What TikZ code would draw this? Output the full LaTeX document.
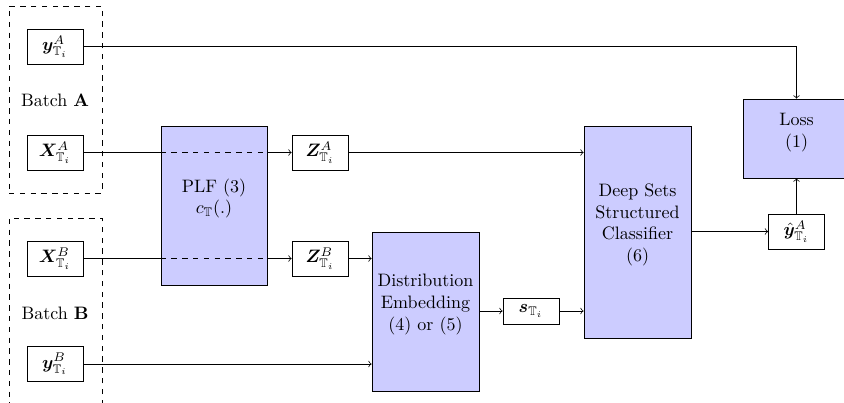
\documentclass[tikz,border=0pt]{standalone}
\usepackage{amsmath,amssymb,bm}
\usetikzlibrary{calc}
\def\pxu{0.5556pt}
\begin{document}
\begin{tikzpicture}[x=0.5556pt,y=-0.5556pt,
  blk/.style={draw, fill=blue!20, inner sep=0pt, minimum width=107*\pxu},
  var/.style={draw, fill=white, inner sep=0pt, minimum width=56*\pxu, minimum height=35*\pxu},
  grp/.style={draw, dashed, inner sep=0pt, minimum width=93*\pxu},
  lbl/.style={align=center, inner sep=0pt},
  conn/.style={->}]
\useasboundingbox (0,0) rectangle (844,402);
\clip (0,0) rectangle (844,402);
% group boxes
\node[grp, minimum height=187*\pxu] (grpA) at (55.5,99.5) {};
\node[grp, minimum height=202*\pxu] (grpB) at (55.5,319) {};
% variable nodes
\node[var] (yA) at (55,46.5) {$\boldsymbol{y}^{A}_{\mathbb{T}_i}$};
\node[lbl] (batchA) at (55,100) {Batch \textbf{A}};
\node[var] (XA) at (55,152.5) {$\boldsymbol{X}^{A}_{\mathbb{T}_i}$};
\node[var] (XB) at (55,258.5) {$\boldsymbol{X}^{B}_{\mathbb{T}_i}$};
\node[lbl] (batchB) at (55,313) {Batch \textbf{B}};
\node[var] (yB) at (55,364) {$\boldsymbol{y}^{B}_{\mathbb{T}_i}$};
% blocks
\node[blk, minimum width=106*\pxu, minimum height=159*\pxu] (plf) at (214,205.5) {};
\node[lbl] (plft) at ($(plf.center)+(0,-7)$) {PLF (3)\\$c_{\mathbb{T}}(.)$};
\node[var] (zA) at (320,152.5) {$\boldsymbol{Z}^{A}_{\mathbb{T}_i}$};
\node[var] (zB) at (320,258.5) {$\boldsymbol{Z}^{B}_{\mathbb{T}_i}$};
\node[blk, minimum height=159*\pxu] (dist) at (425.5,311.5) {};
\node[lbl] (distt) at ($(dist.center)+(0,-7)$) {Distribution\\Embedding\\(4) or (5)};
\node[var, minimum height=26*\pxu] (s) at (531,311) {$\boldsymbol{s}_{\mathbb{T}_i}$};
\node[blk, minimum height=212*\pxu] (ds) at (637.5,232) {};
\node[lbl] (dst) at ($(ds.center)+(0,-7)$) {Deep Sets\\Structured\\Classifier\\(6)};
\node[blk, minimum height=79*\pxu] (loss) at (796.5,138.5) {};
\node[lbl] (losst) at ($(loss.center)+(0,-6)$) {Loss\\(1)};
\node[var] (yhat) at (796.5,231.5) {$\hat{\boldsymbol{y}}^{A}_{\mathbb{T}_i}$};
% connectors
\draw[conn] (yA.east) -- (yA.east -| loss.north) -- (loss.north);
\draw (XA.east) -- (XA.east -| plf.west);
\draw[dashed] (XA.east -| plf.west) -- (XA.east -| plf.east);
\draw[conn] (XA.east -| plf.east) -- (zA.west);
\draw (XB.east) -- (XB.east -| plf.west);
\draw[dashed] (XB.east -| plf.west) -- (XB.east -| plf.east);
\draw[conn] (XB.east -| plf.east) -- (zB.west);
\draw[conn] (zA.east) -- (zA.east -| ds.west);
\draw[conn] (zB.east) -- (zB.east -| dist.west);
\draw[conn] (yB.east) -- (yB.east -| dist.west);
\draw[conn] (dist.east |- s.west) -- (s.west);
\draw[conn] (s.east) -- (s.east -| ds.west);
\draw[conn] (ds.east |- yhat.west) -- (yhat.west);
\draw[conn] (yhat.north) -- (loss.south);
\end{tikzpicture}
\end{document}
